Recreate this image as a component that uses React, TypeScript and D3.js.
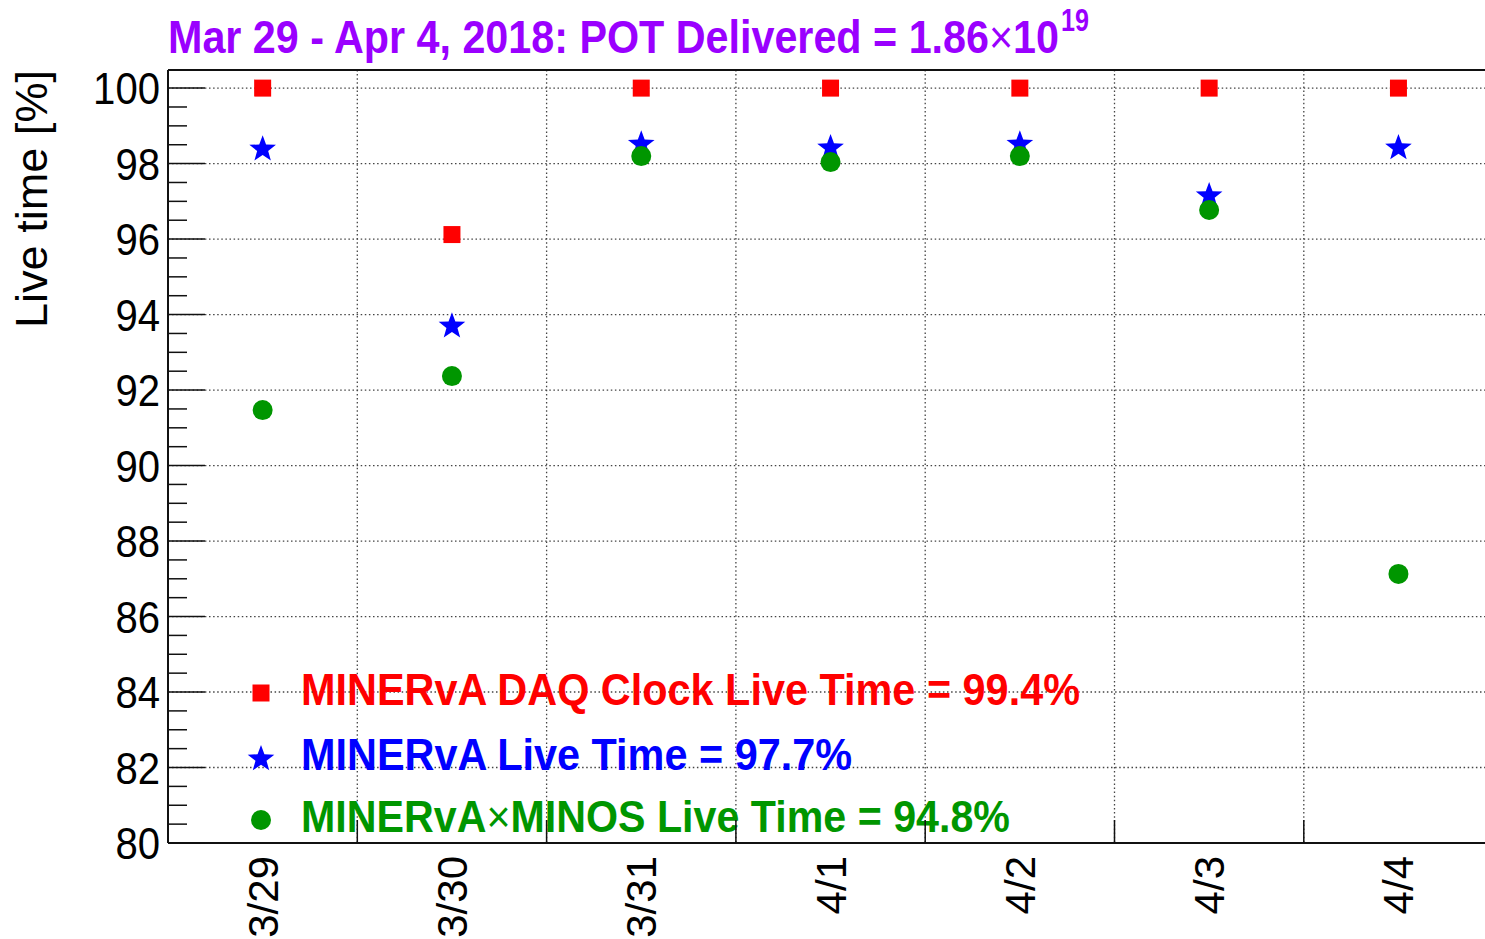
import React from 'react';
import * as d3 from 'd3';

// chart values
const days = ['3/29', '3/30', '3/31', '4/1', '4/2', '4/3', '4/4'];
const daqClock = [100, 96.12, 100, 100, 100, 100, 100];
const minervaLive = [98.41, 93.72, 98.54, 98.44, 98.54, 97.17, 98.44];
const minervaMinos = [91.47, 92.37, 98.2, 98.04, 98.2, 96.77, 87.13];
const yTicks = [80, 82, 84, 86, 88, 90, 92, 94, 96, 98, 100];
// legend entries split around the thin "×" sign
const legendLabels = [
  ['MINERvA DAQ Clock Live Time = 99.4%'],
  ['MINERvA Live Time = 97.7%'],
  ['MINERvA', 'MINOS Live Time = 94.8%'],
];
const titleParts = ['Mar 29 - Apr 4, 2018: POT Delivered = 1.86', '10'];
const titleExp = '19';

const W = 1485;
const H = 939;
const left = 168;
const top = 70;
const bottom = 843;
const binW = 189.3;

const RED = '#ff0000';
const BLUE = '#0000ff';
const GREEN = '#009600';
const VIOLET = '#9a00ff';
const FONT = '"Liberation Sans", Arial, Helvetica, sans-serif';

// fat 5-point star like ROOT marker 29
const starPts = d3.range(10).map(i => [(i * Math.PI) / 5, i % 2 === 0 ? 14 : 5.8] as [number, number]);
const starPath = d3
  .lineRadial<[number, number]>()
  .angle(d => d[0])
  .radius(d => d[1])
  .curve(d3.curveLinearClosed)(starPts) as string;

function App() {
  const x = d3
    .scaleBand<string>()
    .domain(days)
    .range([left, left + binW * days.length])
    .padding(0);
  const y = d3.scaleLinear().domain([80, 100.48]).range([bottom, top]);
  const cx = (d: string) => (x(d) as number) + x.bandwidth() / 2;

  const minorTicks = d3.range(80, 100.01, 0.5).filter(v => Math.abs(v % 2) > 0.01);
  const edges = days.map(d => (x(d) as number) + x.bandwidth());

  const square = d3.symbol().type(d3.symbolSquare).size(289)() as string;

  const series = [
    { vals: daqClock, color: RED, kind: 'square' },
    { vals: minervaLive, color: BLUE, kind: 'star' },
    { vals: minervaMinos, color: GREEN, kind: 'circle' },
  ];

  const marker = (kind: string, color: string, px: number, py: number, key: string) => {
    if (kind === 'circle') return <circle key={key} cx={px} cy={py} r={10} fill={color} />;
    const p = kind === 'star' ? starPath : square;
    return <path key={key} d={p} transform={`translate(${px},${py + (kind === 'star' ? 1 : 0)})`} fill={color} />;
  };

  const legendY = [693, 758, 820];
  const legendColors = [RED, BLUE, GREEN];
  const legendKinds = ['square', 'star', 'circle'];
  const legendWidths = [779, 551, 709];

  return (
    <div style={{ position: 'absolute', left: 0, top: 0 }}>
      <svg width={W} height={H} style={{ display: 'block', background: '#fff' }} fontFamily={FONT}>
        {/* grid */}
        <g stroke="#444" strokeWidth={1.3} strokeDasharray="1.5,2.6" fill="none">
          {yTicks.filter(v => v > 80).map(v => (
            <line key={'gy' + v} x1={left} x2={W} y1={y(v)} y2={y(v)} />
          ))}
          {edges.map((e, i) => (
            <line key={'gx' + i} x1={e} x2={e} y1={top} y2={bottom} />
          ))}
        </g>

        {/* legend */}
        {legendLabels.map((t, i) => (
          <g key={'lg' + i}>
            {marker(legendKinds[i], legendColors[i], 261, legendY[i], 'lm' + i)}
            <text
              x={301}
              y={legendY[i] + 12}
              fontSize={45}
              fontWeight="bold"
              fill={legendColors[i]}
              textLength={legendWidths[i]}
              lengthAdjust="spacingAndGlyphs"
            >
              {t.length === 1 ? (
                t[0]
              ) : (
                <>
                  <tspan>{t[0]}</tspan>
                  <tspan fontWeight="normal">{'\u00d7'}</tspan>
                  <tspan>{t[1]}</tspan>
                </>
              )}
            </text>
          </g>
        ))}

        {/* points */}
        {series.map((s, si) =>
          s.vals.map((v, i) => marker(s.kind, s.color, cx(days[i]), y(v), `p${si}-${i}`))
        )}

        {/* frame */}
        <g stroke="#111" strokeWidth={2} fill="none">
          <line x1={left} x2={W} y1={top} y2={top} />
          <line x1={left} x2={W} y1={bottom} y2={bottom} />
          <line x1={left} x2={left} y1={top} y2={bottom} />
        </g>

        {/* ticks */}
        <g stroke="#111" strokeWidth={1.5}>
          {yTicks.map(v => (
            <line key={'yt' + v} x1={left} x2={left + 37} y1={y(v)} y2={y(v)} />
          ))}
          {minorTicks.map(v => (
            <line key={'ym' + v} x1={left} x2={left + 19} y1={y(v)} y2={y(v)} />
          ))}
          {edges.map((e, i) => (
            <line key={'xt' + i} x1={e} x2={e} y1={bottom} y2={bottom - 23} />
          ))}
        </g>

        {/* y tick labels */}
        {yTicks.map(v => (
          <text
            key={'yl' + v}
            x={160}
            y={y(v) + 16}
            fontSize={44}
            textAnchor="end"
            fill="#000"
            textLength={String(v).length * 22.3}
            lengthAdjust="spacingAndGlyphs"
          >
            {v}
          </text>
        ))}

        {/* x tick labels */}
        {days.map(d => (
          <text
            key={'xl' + d}
            transform={`translate(${cx(d) + 15},856) rotate(-90)`}
            fontSize={42}
            textAnchor="end"
            fill="#000"
          >
            {d}
          </text>
        ))}

        {/* y axis title */}
        <text
          transform="translate(47,70) rotate(-90)"
          fontSize={45}
          textAnchor="end"
          fill="#000"
          textLength={258}
          lengthAdjust="spacingAndGlyphs"
        >
          Live time [%]
        </text>

        {/* title */}
        <text x={168} y={53} fontSize={46} fontWeight="bold" fill={VIOLET} textLength={891} lengthAdjust="spacingAndGlyphs">
          <tspan>{titleParts[0]}</tspan>
          <tspan fontWeight="normal">{'\u00d7'}</tspan>
          <tspan>{titleParts[1]}</tspan>
        </text>
        <text x={1061} y={31} fontSize={31} fontWeight="bold" fill={VIOLET} textLength={28} lengthAdjust="spacingAndGlyphs">
          {titleExp}
        </text>
      </svg>
    </div>
  );
}

export default App;
